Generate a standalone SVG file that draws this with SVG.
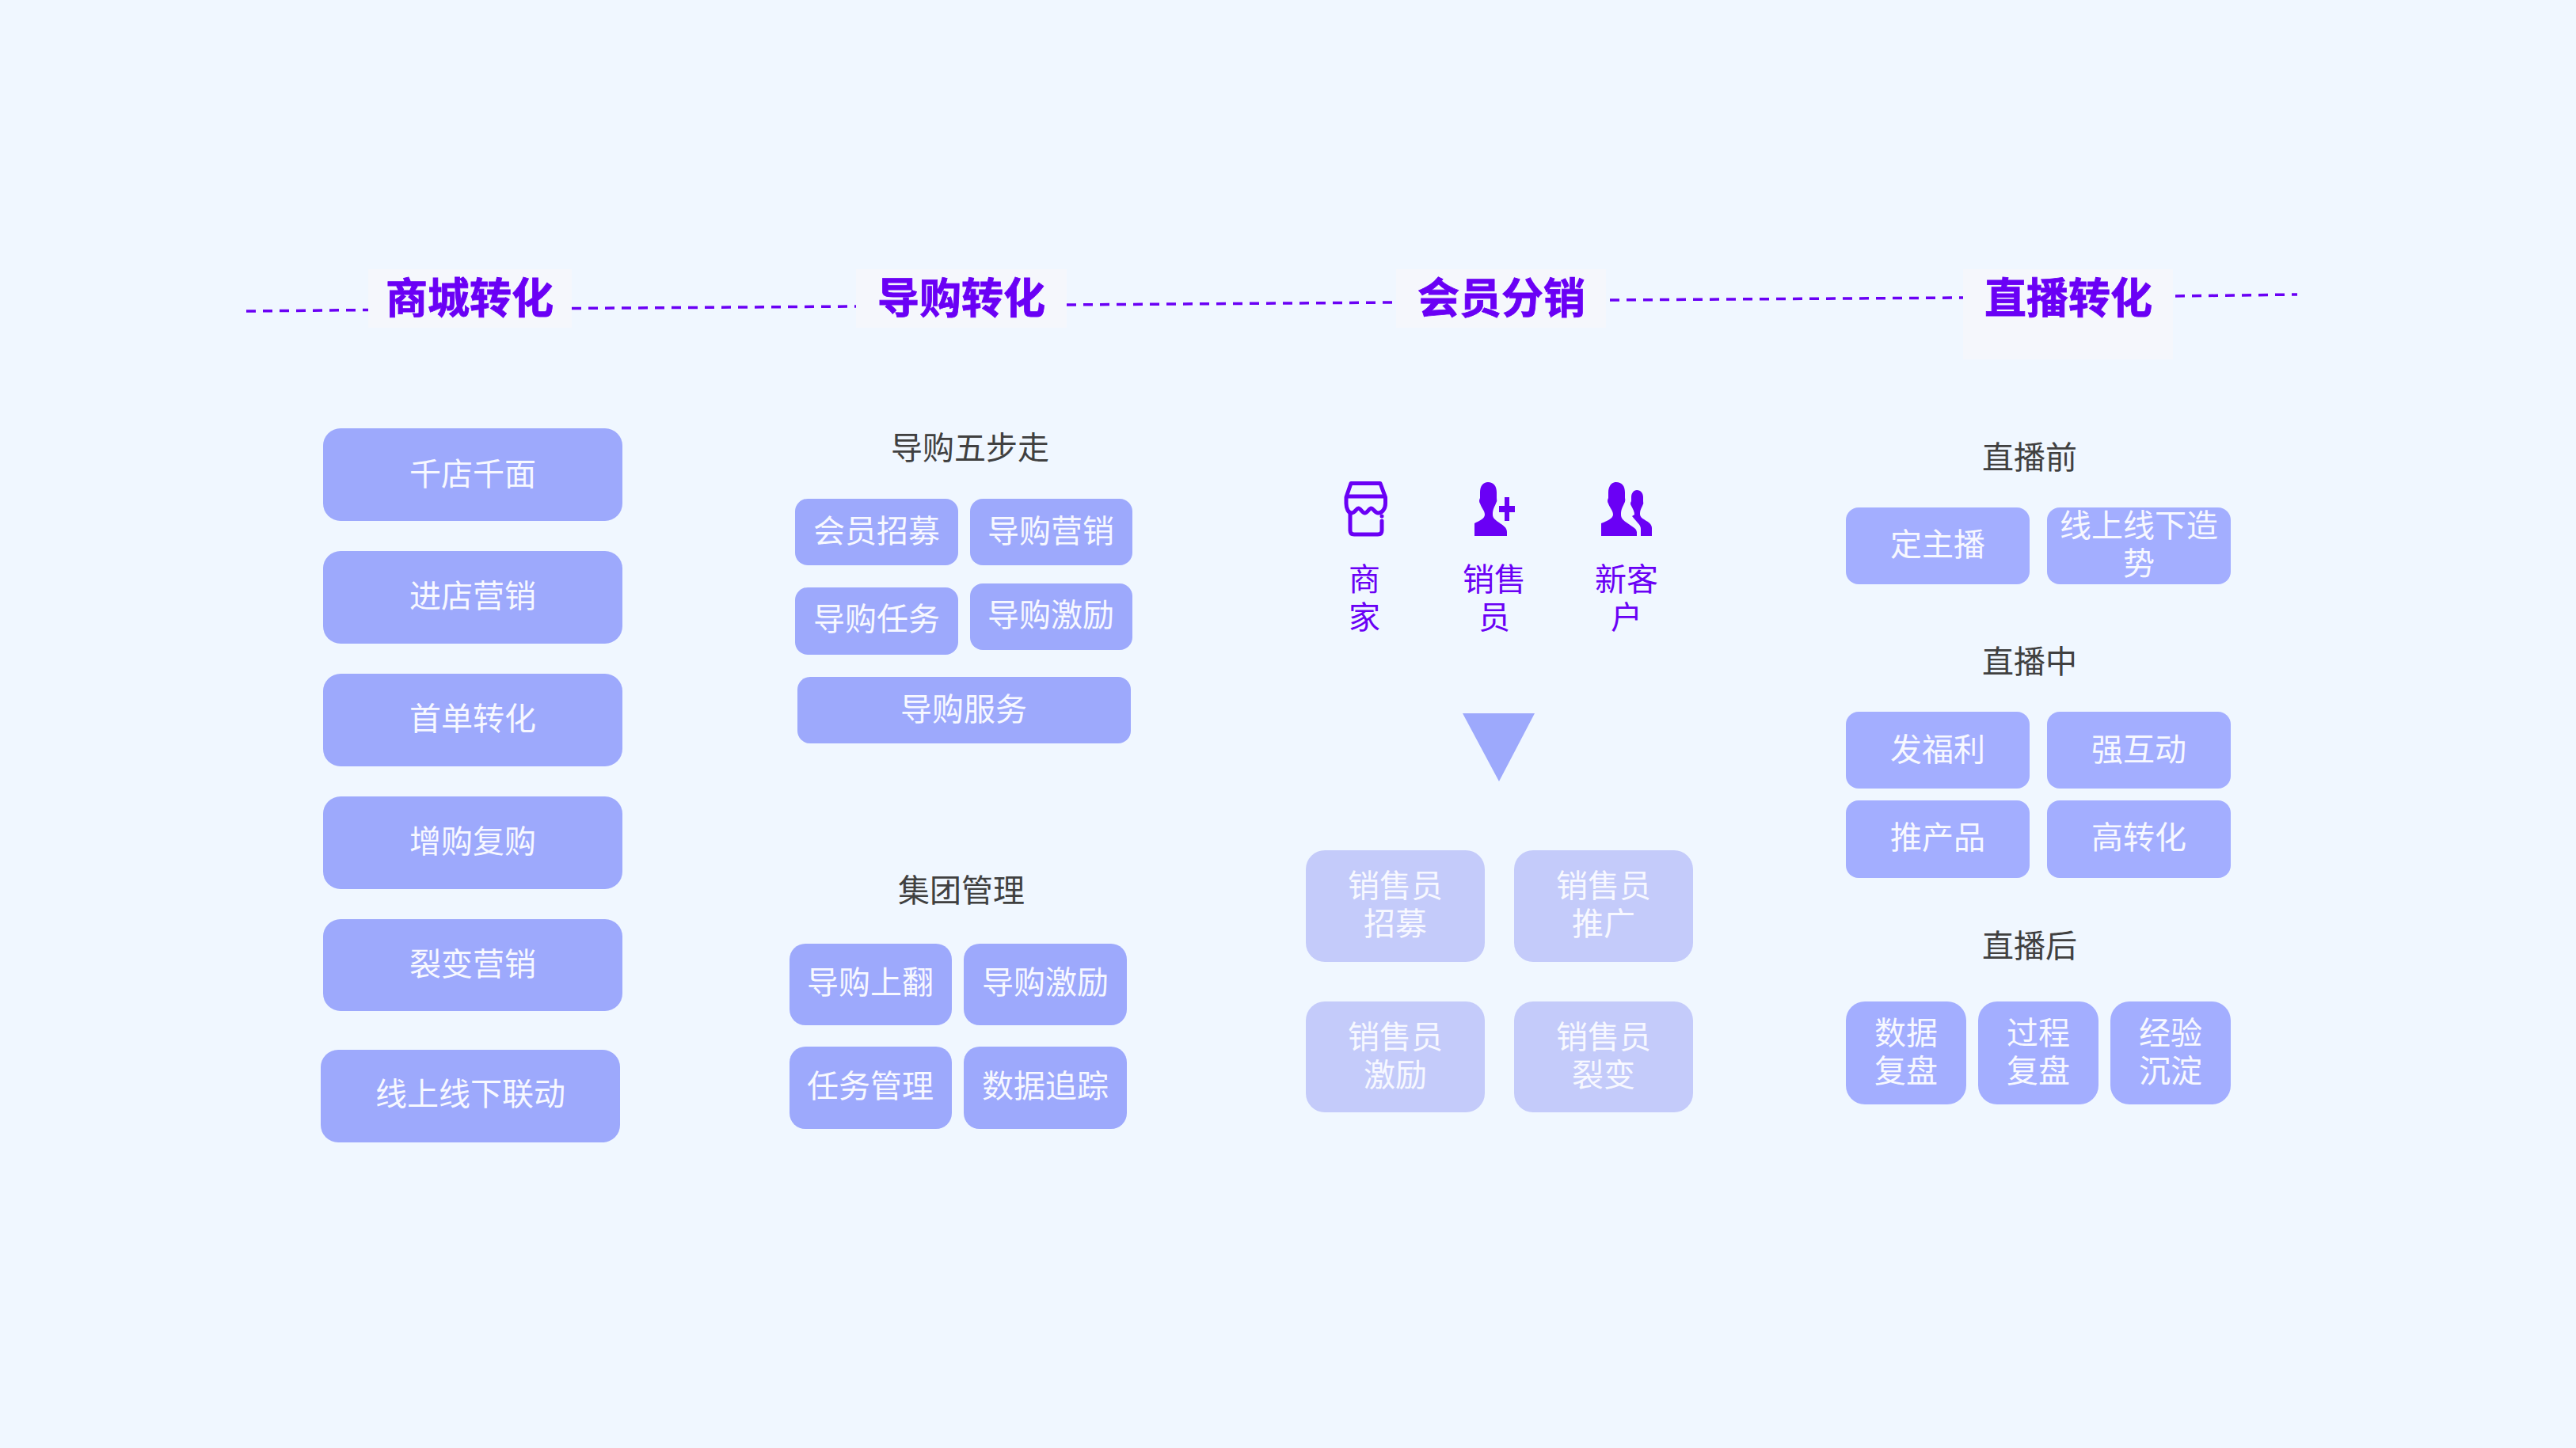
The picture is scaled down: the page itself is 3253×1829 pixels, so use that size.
<svg xmlns="http://www.w3.org/2000/svg" width="3253" height="1829" viewBox="0 0 3253 1829">
<style>
text{font-family:"Noto Sans CJK SC","Noto Sans",sans-serif;font-size:40px;text-anchor:middle}
.h{font-size:53px;font-weight:700;fill:#6a00f5;stroke:#6a00f5;stroke-width:.8}
.s{fill:#404040}
.w{fill:#f7f8ff}
.p{fill:#6a00f5}
.b{fill:#9da9fc}
.c{fill:#a3aeff}
.l{fill:#c4cbfa}
.bg{fill:#f5f7fc}
.d{stroke:#6a00f5;stroke-width:3.500;stroke-dasharray:12 9;fill:none}
</style>
<rect width="3253" height="1829" fill="#f0f7ff"/>
<g id="connectors">
<path class="d" d="M311 393L465 391.500"/>
<path class="d" d="M722 389.500L1081 387"/>
<path class="d" d="M1347 385L1763 382"/>
<path class="d" d="M2033 379L2479 376"/>
<path class="d" d="M2747 374L2901 372"/>
</g>
<g id="header-mall"><rect class="bg" x="465" y="340" width="257" height="74"/><text class="h" x="593" y="396">商城转化</text></g>
<g id="header-guide"><rect class="bg" x="1081" y="340" width="266" height="74"/><text class="h" x="1214" y="396">导购转化</text></g>
<g id="header-member"><rect class="bg" x="1763" y="340" width="265" height="74"/><text class="h" x="1896" y="396">会员分销</text></g>
<g id="header-live"><rect class="bg" x="2479" y="340" width="265" height="114"/><text class="h" x="2612" y="396">直播转化</text></g>

<g id="m1"><rect class="b" x="408" y="541" width="378" height="117" rx="22"/><text class="w" x="597" y="613">千店千面</text></g>
<g id="m2"><rect class="b" x="408" y="696" width="378" height="117" rx="22"/><text class="w" x="597" y="767">进店营销</text></g>
<g id="m3"><rect class="b" x="408" y="851" width="378" height="117" rx="22"/><text class="w" x="597" y="922">首单转化</text></g>
<g id="m4"><rect class="b" x="408" y="1006" width="378" height="117" rx="22"/><text class="w" x="597" y="1077">增购复购</text></g>
<g id="m5"><rect class="b" x="408" y="1161" width="378" height="116" rx="22"/><text class="w" x="597" y="1232">裂变营销</text></g>
<g id="m6"><rect class="b" x="405" y="1326" width="378" height="117" rx="22"/><text class="w" x="594" y="1396">线上线下联动</text></g>

<g id="g-title1"><text class="s" x="1225" y="580">导购五步走</text></g>
<g id="g1"><rect class="b" x="1004" y="630" width="206" height="84" rx="16"/><text class="w" x="1107" y="685">会员招募</text></g>
<g id="g2"><rect class="b" x="1225" y="630" width="205" height="84" rx="16"/><text class="w" x="1327" y="685">导购营销</text></g>
<g id="g3"><rect class="b" x="1004" y="742" width="206" height="85" rx="16"/><text class="w" x="1107" y="796">导购任务</text></g>
<g id="g4"><rect class="b" x="1225" y="737" width="205" height="84" rx="16"/><text class="w" x="1327" y="791">导购激励</text></g>
<g id="g5"><rect class="b" x="1007" y="855" width="421" height="84" rx="16"/><text class="w" x="1217" y="910">导购服务</text></g>

<g id="g-title2"><text class="s" x="1214" y="1139">集团管理</text></g>
<g id="g6"><rect class="b" x="997" y="1192" width="205" height="103" rx="20"/><text class="w" x="1099" y="1255">导购上翻</text></g>
<g id="g7"><rect class="b" x="1217" y="1192" width="206" height="103" rx="20"/><text class="w" x="1320" y="1255">导购激励</text></g>
<g id="g8"><rect class="b" x="997" y="1322" width="205" height="104" rx="20"/><text class="w" x="1099" y="1386">任务管理</text></g>
<g id="g9"><rect class="b" x="1217" y="1322" width="206" height="104" rx="20"/><text class="w" x="1320" y="1386">数据追踪</text></g>

<g id="icon-merchant">
<path d="M1706 610.500H1743L1749.500 628V636C1749.500 643 1745 648 1740.500 648C1736.500 648 1734 642 1731.500 642C1729 642 1726.500 648 1723.500 648C1720.500 648 1718 642 1715.500 642C1713 642 1711 648 1707 648C1703 648 1700 643 1700 636V628Z" fill="none" stroke="#6a00f5" stroke-width="5" stroke-linejoin="round"/>
<path d="M1700 627H1750" stroke="#6a00f5" stroke-width="5" fill="none"/>
<path d="M1705 649V670Q1705 675 1710 675H1740Q1745 675 1745 670V658" fill="none" stroke="#6a00f5" stroke-width="5" stroke-linecap="round"/>
<circle cx="1745" cy="652" r="2.500" fill="#6a00f5"/>
<text class="p" x="1723" y="746"><tspan x="1723">商</tspan><tspan x="1723" dy="48">家</tspan></text>
</g>
<g id="icon-sales">
<path class="p" d="M1879 609C1886 609 1890 614 1890 622L1890 629Q1891 633 1889 636C1887 641 1885 643 1885 650C1885 655 1889 657 1893 660C1897 663 1903 666 1903 672V677H1862V661C1868 658 1875 655 1875 650C1875 645 1871 642 1869 636Q1867 633 1869 629L1869 622C1869 614 1873 609 1879 609Z"/>
<path class="p" d="M1900 628H1906V639H1913V647H1906V658H1900V647H1893V639H1900Z"/>
<text class="p" x="1887" y="746"><tspan x="1887">销售</tspan><tspan x="1887" dy="48">员</tspan></text>
</g>
<g id="icon-customer">
<path class="p" d="M2041 609C2048 609 2052 614 2052 622L2052 629Q2053 633 2051 636C2049 641 2047 643 2047 650C2047 655 2050 657 2054 660L2064 667Q2067 669 2067 672V677H2022V661C2029 658 2037 655 2037 650C2037 645 2033 642 2031 636Q2029 633 2031 629L2031 622C2031 614 2035 609 2041 609Z"/>
<path class="p" d="M2067 619C2072 619 2075 623 2075 628L2075 633Q2076 636 2074 639C2072 643 2071 645 2071 649C2071 654 2075 655 2079 658C2083 660 2086 663 2086 667V677H2072V668C2072 663 2068 661 2061 652L2064 650C2064 646 2062 643 2060 639Q2058 636 2060 633L2060 628C2060 623 2063 619 2067 619Z"/>
<text class="p" x="2054" y="746"><tspan x="2054">新客</tspan><tspan x="2054" dy="48">户</tspan></text>
</g>
<g id="arrow-down"><path class="b" d="M1847 901H1938L1893 987Z"/></g>

<g id="d1"><rect class="l" x="1649" y="1074" width="226" height="141" rx="24"/><text class="w" y="1133"><tspan x="1762">销售员</tspan><tspan x="1762" dy="48">招募</tspan></text></g>
<g id="d2"><rect class="l" x="1912" y="1074" width="226" height="141" rx="24"/><text class="w" y="1133"><tspan x="2025">销售员</tspan><tspan x="2025" dy="48">推广</tspan></text></g>
<g id="d3"><rect class="l" x="1649" y="1265" width="226" height="140" rx="24"/><text class="w" y="1324"><tspan x="1762">销售员</tspan><tspan x="1762" dy="48">激励</tspan></text></g>
<g id="d4"><rect class="l" x="1912" y="1265" width="226" height="140" rx="24"/><text class="w" y="1324"><tspan x="2025">销售员</tspan><tspan x="2025" dy="48">裂变</tspan></text></g>

<g id="l-title1"><text class="s" x="2563" y="592">直播前</text></g>
<g id="l1"><rect class="c" x="2331" y="641" width="232" height="97" rx="16"/><text class="w" x="2447" y="702">定主播</text></g>
<g id="l2"><rect class="c" x="2585" y="641" width="232" height="97" rx="16"/><text class="w" y="678"><tspan x="2701">线上线下造</tspan><tspan x="2701" dy="48">势</tspan></text></g>
<g id="l-title2"><text class="s" x="2563" y="850">直播中</text></g>
<g id="l3"><rect class="c" x="2331" y="899" width="232" height="97" rx="16"/><text class="w" x="2447" y="961">发福利</text></g>
<g id="l4"><rect class="c" x="2585" y="899" width="232" height="97" rx="16"/><text class="w" x="2701" y="961">强互动</text></g>
<g id="l5"><rect class="c" x="2331" y="1011" width="232" height="98" rx="16"/><text class="w" x="2447" y="1072">推产品</text></g>
<g id="l6"><rect class="c" x="2585" y="1011" width="232" height="98" rx="16"/><text class="w" x="2701" y="1072">高转化</text></g>
<g id="l-title3"><text class="s" x="2563" y="1209">直播后</text></g>
<g id="l7"><rect class="c" x="2331" y="1265" width="152" height="130" rx="24"/><text class="w" y="1319"><tspan x="2407">数据</tspan><tspan x="2407" dy="48">复盘</tspan></text></g>
<g id="l8"><rect class="c" x="2498" y="1265" width="152" height="130" rx="24"/><text class="w" y="1319"><tspan x="2574">过程</tspan><tspan x="2574" dy="48">复盘</tspan></text></g>
<g id="l9"><rect class="c" x="2665" y="1265" width="152" height="130" rx="24"/><text class="w" y="1319"><tspan x="2741">经验</tspan><tspan x="2741" dy="48">沉淀</tspan></text></g>
</svg>
